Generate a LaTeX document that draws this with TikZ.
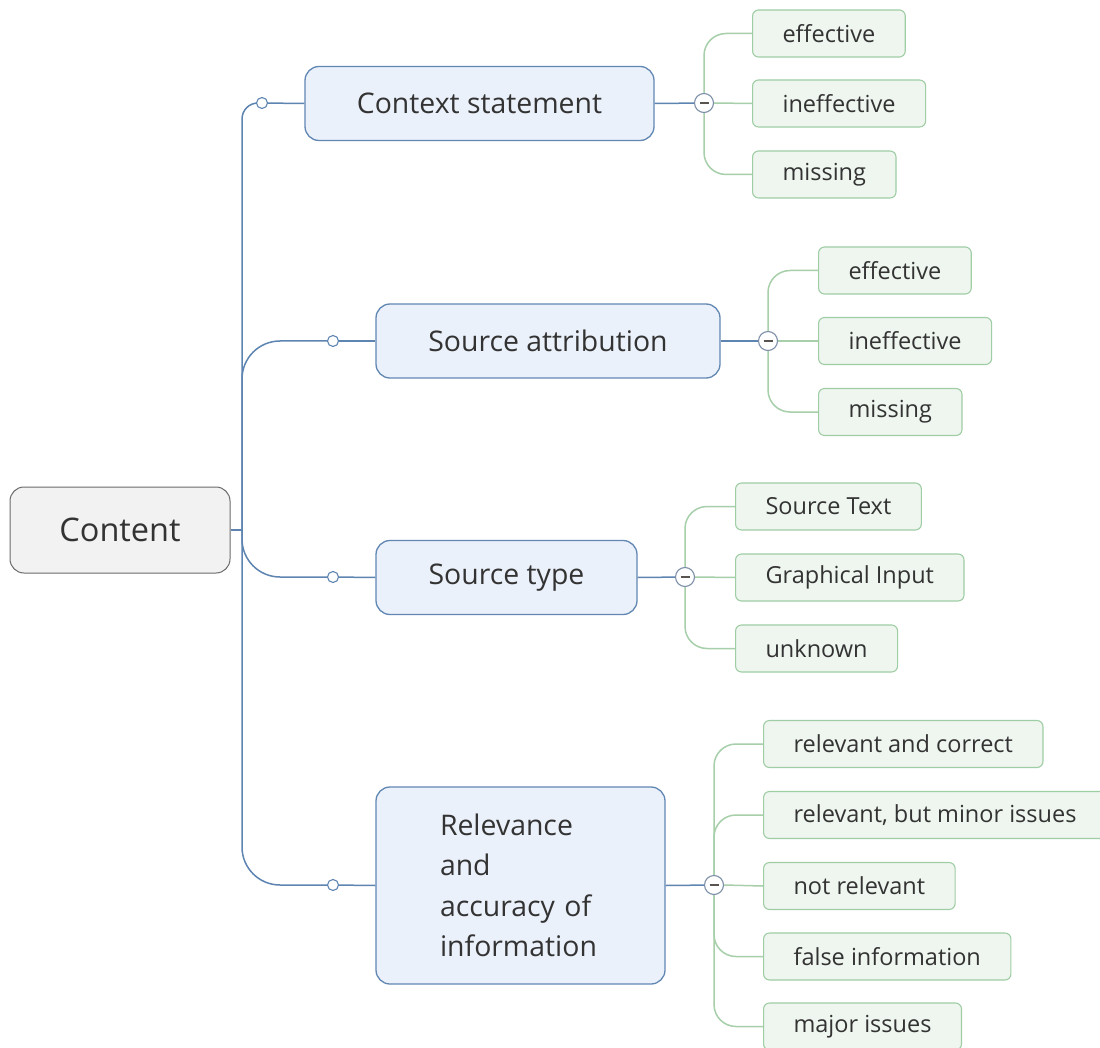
\documentclass[tikz,border=0pt]{standalone}
\usepackage{fontspec}
\setmainfont{Open Sans}
\definecolor{txt}{HTML}{333333}
\definecolor{rootfill}{HTML}{F2F2F2}
\definecolor{rootborder}{HTML}{6B6B6B}
\definecolor{topicfill}{HTML}{EBF1FA}
\definecolor{topicborder}{HTML}{6187B3}
\definecolor{blueline}{HTML}{5E85B1}
\definecolor{leaffill}{HTML}{EEF6EF}
\definecolor{leafborder}{HTML}{9FCDA4}
\definecolor{leafline}{HTML}{A6CFAA}
\definecolor{foldborder}{HTML}{7D8FA8}
\definecolor{foldminus}{HTML}{5A5450}
\begin{document}
\begin{tikzpicture}[x=1pt,y=-1pt,
  root/.style={draw=rootborder, fill=rootfill, rounded corners=14pt, line width=1pt,
    minimum width=220pt, minimum height=86pt, font=\fontsize{32.5}{38}\selectfont, text=txt},
  topic/.style={draw=topicborder, fill=topicfill, rounded corners=14pt, line width=1.3pt,
    minimum height=74pt, font=\fontsize{28.4}{34}\selectfont, text=txt},
  leaf/.style={draw=leafborder, fill=leaffill, rounded corners=6pt, line width=1.1pt,
    minimum height=47pt, inner xsep=30pt, anchor=west, font=\fontsize{23.5}{28}\selectfont, text=txt},
  knob/.style={circle, draw=blueline, fill=white, line width=1.1pt, minimum size=11pt, inner sep=0pt},
  fold/.style={circle, draw=foldborder, fill=white, line width=1.1pt, minimum size=19pt, inner sep=0pt,
    path picture={\draw[line width=2.4pt, foldminus]
      ([xshift=-4.5pt]path picture bounding box.center) -- ([xshift=4.5pt]path picture bounding box.center);}},
  bline/.style={draw=blueline, line width=1.5pt},
  gline/.style={draw=leafline, line width=1.5pt}
]
\useasboundingbox (0,0) rectangle (1100,1048);
\fill[white] (0,0) rectangle (1100,1048);

% central topic and main branches
\node[root] (content) at (120,530) {Content};
\coordinate (hub) at (242,530);

\node[topic, minimum width=349pt] (ctx) at (479.5,103.5) {Context statement};
\node[topic, minimum width=344pt] (attr) at (548,341) {Source attribution};
\node[topic, minimum width=261pt] (stype) at (506.5,577.5) {Source type};
\node[topic, minimum width=289pt, minimum height=197pt, text width=161pt, inner xsep=64pt,
  align=left, font=\fontsize{28.4}{40.5}\selectfont] (rel) at (520.5,885.5)
  {Relevance\\and\\accuracy of\\information};

\draw[bline] (content.east) -- (hub);
\draw[bline, rounded corners=16pt] (hub) |- (262,103);
\draw[bline, rounded corners=38pt] (hub) |- (333,341);
\draw[bline, rounded corners=38pt] (hub) |- (333,577);
\draw[bline, rounded corners=38pt] (hub) |- (333,885);

\node[knob] (k1) at (262,103) {};
\node[knob] (k2) at (333,341) {};
\node[knob] (k3) at (333,577) {};
\node[knob] (k4) at (333,885) {};

\draw[bline] (k1) -- (ctx.west);
\draw[bline] (k2) -- (attr.west);
\draw[bline] (k3) -- (stype.west);
\draw[bline] (k4) -- (rel.west);

% fold buttons
\node[fold] (f1) at (704,103) {};
\node[fold] (f2) at (768,341) {};
\node[fold] (f3) at (685,577) {};
\node[fold] (f4) at (714,885) {};

\draw[bline] (ctx.east) -- (f1);
\draw[bline] (attr.east) -- (f2);
\draw[bline] (stype.east) -- (f3);
\draw[bline] (rel.east) -- (f4);

% Context statement
\node[leaf] (a1) at (752,33.5) {effective};
\node[leaf] (a2) at (752,103.5) {ineffective};
\node[leaf] (a3) at (752,174.5) {missing};
\draw[gline, rounded corners=22pt] (f1.north) |- (a1.west);
\draw[gline] (f1.east) -- (a2.west);
\draw[gline, rounded corners=22pt] (f1.south) |- (a3.west);

% Source attribution
\node[leaf] (b1) at (818,270.5) {effective};
\node[leaf] (b2) at (818,341) {ineffective};
\node[leaf] (b3) at (818,412) {missing};
\draw[gline, rounded corners=22pt] (f2.north) |- (b1.west);
\draw[gline] (f2.east) -- (b2.west);
\draw[gline, rounded corners=22pt] (f2.south) |- (b3.west);

% Source type
\node[leaf] (c1) at (735,506.5) {Source Text};
\node[leaf] (c2) at (735,577.5) {Graphical Input};
\node[leaf] (c3) at (735,648.5) {unknown};
\draw[gline, rounded corners=22pt] (f3.north) |- (c1.west);
\draw[gline] (f3.east) -- (c2.west);
\draw[gline, rounded corners=22pt] (f3.south) |- (c3.west);

% Relevance and accuracy of information
\node[leaf] (d1) at (763,744) {relevant and correct};
\node[leaf] (d2) at (763,815) {relevant, but minor issues};
\node[leaf] (d3) at (763,886) {not relevant};
\node[leaf] (d4) at (763,956.5) {false information};
\node[leaf] (d5) at (763,1026.5) {major issues};
\draw[gline, rounded corners=22pt] (f4.north) |- (d1.west);
\draw[gline, rounded corners=22pt] (f4.north) |- (d2.west);
\draw[gline] (f4.east) -- (d3.west);
\draw[gline, rounded corners=22pt] (f4.south) |- (d4.west);
\draw[gline, rounded corners=22pt] (f4.south) |- (d5.west);
\end{tikzpicture}
\end{document}
